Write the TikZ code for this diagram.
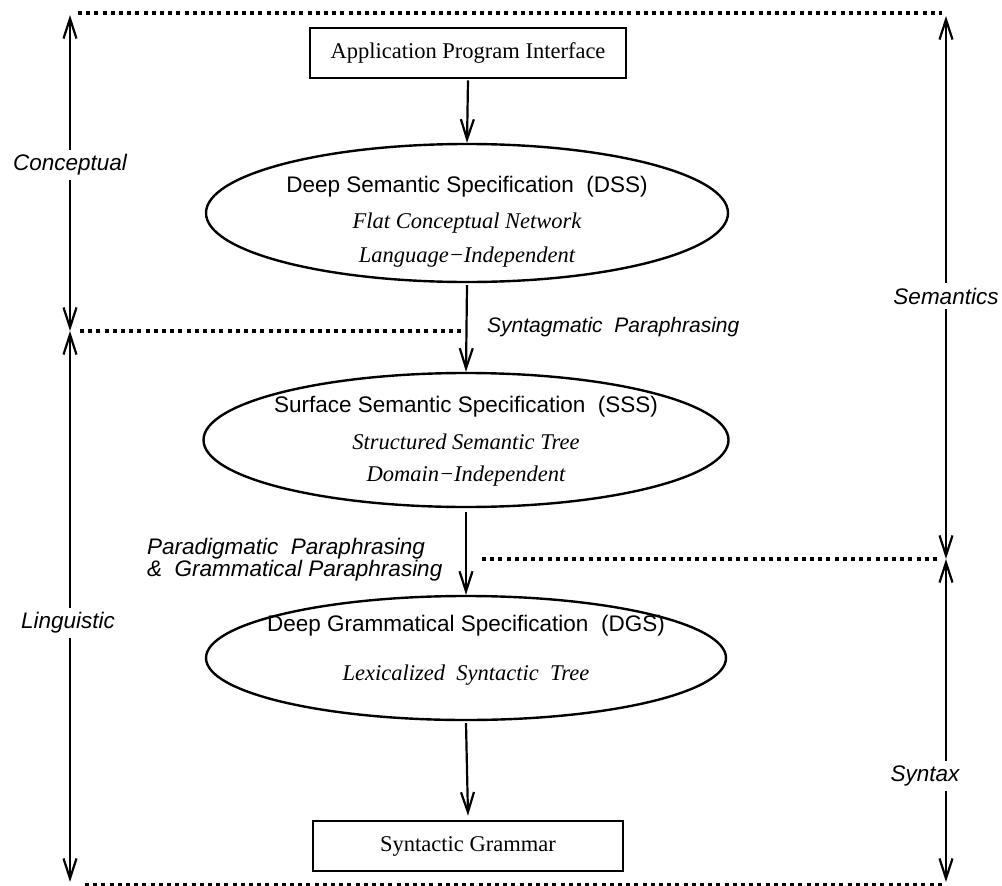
\documentclass[tikz,border=0pt]{standalone}
\usepackage{fontspec}
\setmainfont{Liberation Serif}
\setsansfont{Liberation Sans}
\usetikzlibrary{arrows.meta,shapes.geometric}
\begin{document}
\begin{tikzpicture}[x=1pt,y=-1pt,
  every node/.style={inner sep=0pt},
  boxnode/.style={draw, line width=2.6pt, minimum width=316pt, minimum height=50pt,
    font=\rmfamily\fontsize{22.5}{26}\selectfont},
  oval/.style={draw, ellipse, line width=2.4pt},
  title/.style={font=\sffamily\fontsize{22.5}{26}\selectfont},
  note/.style={font=\rmfamily\itshape\fontsize{22.5}{26}\selectfont},
  side/.style={font=\sffamily\itshape\fontsize{22.5}{26}\selectfont, fill=white, inner sep=5pt},
  step label/.style={font=\sffamily\itshape\fontsize{22.5}{19}\selectfont, align=left, anchor=west},
  flow/.style={line width=2.2pt, -{Straight Barb[length=20pt,width=13pt]}},
  span/.style={line width=2.2pt,
    {Straight Barb[length=20pt,width=13pt]}-{Straight Barb[length=20pt,width=13pt]}},
  border/.style={line width=3.6pt, dash pattern=on 4pt off 4.2pt}
]
\useasboundingbox (0,0) rectangle (1002,886);

% level separators
\coordinate (topL) at (78,13);   \coordinate (topR) at (942,13);
\coordinate (midL) at (80,331);  \coordinate (midLe) at (462,331);
\coordinate (midR) at (482,559); \coordinate (midRe) at (940,559);
\coordinate (botL) at (85,885);  \coordinate (botR) at (942,885);
\draw[border] (topL) -- (topR);
\draw[border] (midL) -- (midLe);
\draw[border] (midR) -- (midRe);
\draw[border] (botL) -- (botR);

% side extents
\coordinate (lTop) at (70,15);  \coordinate (lMid) at (70,331); \coordinate (lBot) at (70,882);
\coordinate (rTop) at (946,16); \coordinate (rMid) at (946,559); \coordinate (rBot) at (946,882);
\draw[span] (lTop) -- (lMid);
\draw[span] (lMid) -- (lBot);
\draw[span] (rTop) -- (rMid);
\draw[span] (rMid) -- (rBot);
\node[side] (conceptual) at (70,165) {Conceptual};
\node[side] (linguistic) at (68,623) {Linguistic};
\node[side] (semantics) at (946,296) {Semantics};
\node[side] (syntax) at (925,776) {Syntax};

% components
\node[boxnode] (api) at (468,53) {Application Program Interface};

\node[oval, minimum width=522pt, minimum height=138pt] (dss) at (467,213) {};
\node[title] (dssT) at (467,187) {Deep Semantic Specification~~(DSS)};
\node[note]  (dss1) at (467,223) {Flat Conceptual Network};
\node[note]  (dss2) at (467,257) {Language−Independent};

\node[oval, minimum width=525pt, minimum height=134pt] (sss) at (466,440) {};
\node[title] (sssT) at (466,407) {Surface Semantic Specification~~(SSS)};
\node[note]  (sss1) at (466,442) {Structured Semantic Tree};
\node[note]  (sss2) at (466,476) {Domain−Independent};

\node[oval, minimum width=520pt, minimum height=124pt] (dgs) at (466,658) {};
\node[title] (dgsT) at (466,626) {Deep Grammatical Specification~~(DGS)};
\node[note]  (dgs1) at (466,675) {Lexicalized~~Syntactic~~Tree};

\node[boxnode, minimum width=310pt] (sg) at (468,846) {Syntactic Grammar};

% transitions
\draw[flow] ([yshift=-1pt]api.south) -- (dss.north);
\draw[flow] ([yshift=-2pt]dss.south) -- (sss.north);
\draw[flow] ([yshift=-4pt]sss.south) -- (dgs.north);
\draw[flow] ([yshift=-2pt]dgs.south) -- ([yshift=4pt]sg.north);

\node[step label, font=\sffamily\itshape\fontsize{21}{19}\selectfont] (syntag) at (487,327) {Syntagmatic~~Paraphrasing};
\node[step label] (paradig) at (147,560) {Paradigmatic~~Paraphrasing\\\&~~Grammatical Paraphrasing};
\end{tikzpicture}
\end{document}
